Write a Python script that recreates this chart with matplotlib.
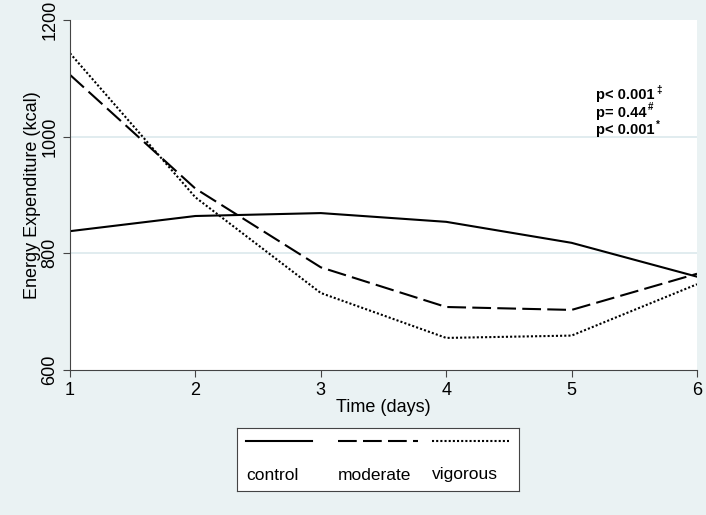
import matplotlib
matplotlib.use("Agg")
import matplotlib.pyplot as plt

days = [1, 2, 3, 4, 5, 6]
control = [838, 864, 869, 854, 818, 760]
moderate = [1106, 911, 776, 708, 703, 765]
vigorous = [1143, 896, 732, 655, 659, 747]
group_names = ["control", "moderate", "vigorous"]
p_labels = ["p< 0.001", "p= 0.44", "p< 0.001"]
p_marks = ["\u2021", "#", "*"]

plt.rcParams['font.family'] = ['Liberation Sans', 'DejaVu Sans']
bg = '#eaf2f3'
axis_col = '#444444'

fig = plt.figure(figsize=(7.06, 5.15), dpi=100, facecolor=bg)
ax = fig.add_axes([70 / 706, 1 - 370 / 515, 627 / 706, 350 / 515])
ax.set_facecolor('white')

styles = ['-', (0, (9, 3)), (0, (1, 1))]
for vals, ls in zip([control, moderate, vigorous], styles):
    ax.plot(days, vals, color='black', linestyle=ls, linewidth=1.5)

ax.set_xlim(1, 6)
ax.set_ylim(600, 1200)
ax.set_xticks(days)
ax.set_yticks([600, 800, 1000, 1200])
ax.set_yticklabels(['600', '800', '1000', '1200'], rotation=90, va='center')
for y in [800, 1000]:
    ax.axhline(y, color='#dce9ec', linewidth=1.2, zorder=0)
for s in ['top', 'right']:
    ax.spines[s].set_visible(False)
for s in ['left', 'bottom']:
    ax.spines[s].set_color(axis_col)
ax.tick_params(colors=axis_col, labelcolor='black', labelsize=13, length=5)
ax.set_xlabel('Time (days)', fontsize=13, labelpad=0)
ax.set_ylabel('Energy Expenditure (kcal)', fontsize=13, labelpad=0)

# p-values with small superscript marks
for i, (lab, mark) in enumerate(zip(p_labels, p_marks)):
    t = ax.text(0.839, 0.785 - i * 0.05, lab, transform=ax.transAxes,
                fontsize=10.5, fontweight='bold', va='center')
    ax.annotate(mark, xy=(1, 0.55), xycoords=t, xytext=(1, 0),
                textcoords='offset points', fontsize=7, fontweight='bold',
                va='bottom', ha='left')

# legend box, Stata style: key line above label
lax = fig.add_axes([237 / 706, 1 - 491 / 515, 282 / 706, 63 / 515])
lax.set_xlim(0, 282)
lax.set_ylim(63, 0)
lax.set_xticks([])
lax.set_yticks([])
for s in lax.spines.values():
    s.set_color(axis_col)
col_x = [(9, 75), (101, 181), (195, 272)]
for (x0, x1), ls, name in zip(col_x, styles, group_names):
    lax.plot([x0, x1], [13, 13], color='black', linestyle=ls, linewidth=1.5)
    lax.text(x0, 47, name, fontsize=12.5, va='center', ha='left')

fig.savefig('out.png', dpi=100, facecolor=bg)
